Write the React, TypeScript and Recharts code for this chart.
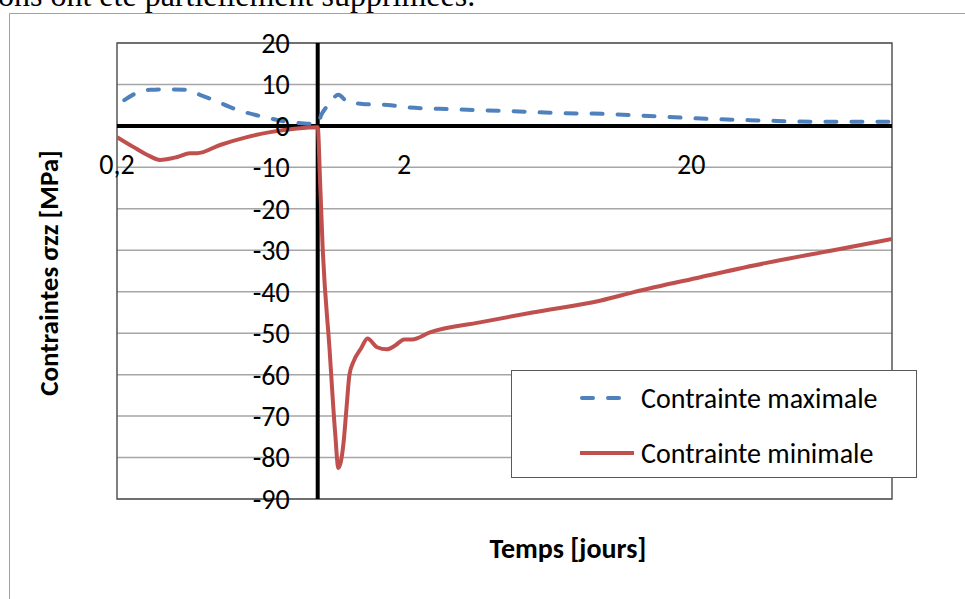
import React from 'react';
import {
  LineChart,
  Line,
  XAxis,
  YAxis,
  CartesianGrid,
  ReferenceLine,
  ReferenceArea,
  ReferenceDot,
  Legend,
} from 'recharts';

// Contrainte maximale (blue dashed)
const maxTimes = [0.212, 0.235, 0.261, 0.3, 0.35, 0.389, 0.432, 0.524, 0.645, 0.783, 0.9, 1.0, 1.03, 1.09, 1.18, 1.27, 1.43, 1.8, 1.94, 2.97, 4.57, 7.0, 9.9, 15.2, 22.9, 35.3, 53, 100];
const maxValues = [6.2, 8.0, 8.7, 8.8, 8.7, 7.5, 6.3, 3.9, 2.2, 1.0, 0.6, 0.5, 2.7, 5.1, 7.5, 5.8, 5.3, 5.0, 4.6, 4.0, 3.6, 3.1, 2.9, 2.3, 1.7, 1.3, 1.0, 1.0];

// Contrainte minimale (red solid)
const minTimes = [0.2, 0.227, 0.26, 0.282, 0.324, 0.359, 0.38, 0.457, 0.567, 0.683, 0.848, 1.0, 1.02, 1.04, 1.1, 1.15, 1.18, 1.23, 1.26, 1.29, 1.33, 1.42, 1.49, 1.61, 1.74, 1.86, 2.0, 2.13, 2.46, 3.67, 5.6, 9.7, 12.6, 21.5, 36.2, 62.5, 100];
const minValues = [-2.7, -5.0, -7.3, -8.2, -7.5, -6.6, -6.6, -4.6, -2.7, -1.5, -0.6, -0.3, -14, -29, -54, -74, -82.5, -76.5, -68, -60, -57, -53.5, -51.3, -53.4, -53.9, -53.0, -51.5, -51.5, -49.8, -47.4, -45.0, -42.1, -40.1, -36.5, -33.1, -30.0, -27.3];

const yTicks = [20, 10, 0, -10, -20, -30, -40, -50, -60, -70, -80, -90];
const xTicks = [0.2, 2, 20];
const xTickLabels = ['0,2', '2', '20'];

const seriesNames = ['Contrainte maximale', 'Contrainte minimale'];
const seriesColors = ['#4f81bd', '#c0504d'];
const seriesDashes = ['11 15', undefined];

const maxData = maxTimes.map((t, i) => ({ t, v: maxValues[i] }));
const minData = minTimes.map((t, i) => ({ t, v: minValues[i] }));

const FONT = 'Carlito, Lato, sans-serif';

const LegendBox = () => (
  <div
    style={{
      width: 406,
      height: 108,
      border: '1.5px solid #595959',
      background: '#fff',
      boxSizing: 'border-box',
    }}
  >
    <svg width={404} height={106}>
      {seriesNames.map((name, i) => {
        const cy = 27 + i * 55;
        return (
          <g key={name}>
            <line
              x1={i === 0 ? 70 : 68}
              x2={i === 0 ? 108 : 122}
              y1={cy}
              y2={cy}
              stroke={seriesColors[i]}
              strokeWidth={4}
              strokeDasharray={seriesDashes[i]}
              strokeLinecap={i === 0 ? 'round' : 'butt'}
            />
            <text x={129} y={cy} dominantBaseline="central" fontFamily={FONT} fontSize={28} fill="#000">
              {name}
            </text>
          </g>
        );
      })}
    </svg>
  </div>
);

export default function App() {
  return (
    <div style={{ position: 'absolute', left: 0, top: 0, width: 965, height: 599, overflow: 'hidden', background: '#fff' }}>
      <svg width={965} height={599} style={{ position: 'absolute', left: 0, top: 0 }}>
        <text x={-2} y={6} fontFamily="'Liberation Serif', serif" fontSize={32} fill="#000">
          ons ont été partiellement supprimées.
        </text>
        <line x1={9.5} y1={13.5} x2={965} y2={13.5} stroke="#a0a0a0" strokeWidth={1} />
        <line x1={9.5} y1={13.5} x2={9.5} y2={599} stroke="#a0a0a0" strokeWidth={1} />
        <text
          x={0}
          y={0}
          transform="translate(48 273) rotate(-90)"
          textAnchor="middle"
          dominantBaseline="central"
          fontFamily={FONT}
          fontWeight="bold"
          fontSize={27}
          fill="#000"
        >
          Contraintes σzz [MPa]
        </text>
        <text x={568} y={548} textAnchor="middle" dominantBaseline="central" fontFamily={FONT} fontWeight="bold" fontSize={28} fill="#000">
          Temps [jours]
        </text>
      </svg>
      <div style={{ position: 'absolute', left: 0, top: 0 }}>
        <LineChart width={965} height={599} margin={{ top: 43, right: 73, bottom: 100, left: 117 }}>
          <XAxis dataKey="t" type="number" scale="log" domain={[0.2, 100]} allowDataOverflow hide />
          <YAxis type="number" domain={[-90, 20]} ticks={yTicks} allowDataOverflow hide />
          <CartesianGrid vertical={false} stroke="#a6a6a6" strokeWidth={1.5} />
          <ReferenceArea x1={0.2} x2={100} y1={-90} y2={20} fill="none" stroke="#555" strokeWidth={1.5} />
          <ReferenceLine x={1} stroke="#000" strokeWidth={4} />
          <ReferenceLine y={0} stroke="#000" strokeWidth={4} />
          <Line
            data={maxData}
            dataKey="v"
            name={seriesNames[0]}
            type="monotone"
            stroke={seriesColors[0]}
            strokeWidth={4}
            strokeDasharray={seriesDashes[0]}
            strokeLinecap="round"
            dot={false}
            activeDot={false}
            isAnimationActive={false}
          />
          <Line
            data={minData}
            dataKey="v"
            name={seriesNames[1]}
            type="monotone"
            stroke={seriesColors[1]}
            strokeWidth={4}
            dot={false}
            activeDot={false}
            isAnimationActive={false}
          />
          {yTicks.map((v) => (
            <ReferenceDot
              key={'y' + v}
              x={1}
              y={v}
              r={0}
              fill="none"
              stroke="none"
              label={{ value: String(v), position: 'left', offset: 28, fill: '#000', fontSize: 28, fontFamily: FONT }}
            />
          ))}
          {xTicks.map((v, i) => (
            <ReferenceDot
              key={'x' + v}
              x={v}
              y={0}
              r={0}
              fill="none"
              stroke="none"
              label={{ value: xTickLabels[i], position: 'bottom', offset: 28, fill: '#000', fontSize: 28, fontFamily: FONT }}
            />
          ))}
          <Legend
            layout="horizontal"
            verticalAlign="middle"
            align="center"
            wrapperStyle={{ left: 511, top: 370, width: 406, height: 108 }}
            content={() => <LegendBox />}
          />
        </LineChart>
      </div>
    </div>
  );
}
